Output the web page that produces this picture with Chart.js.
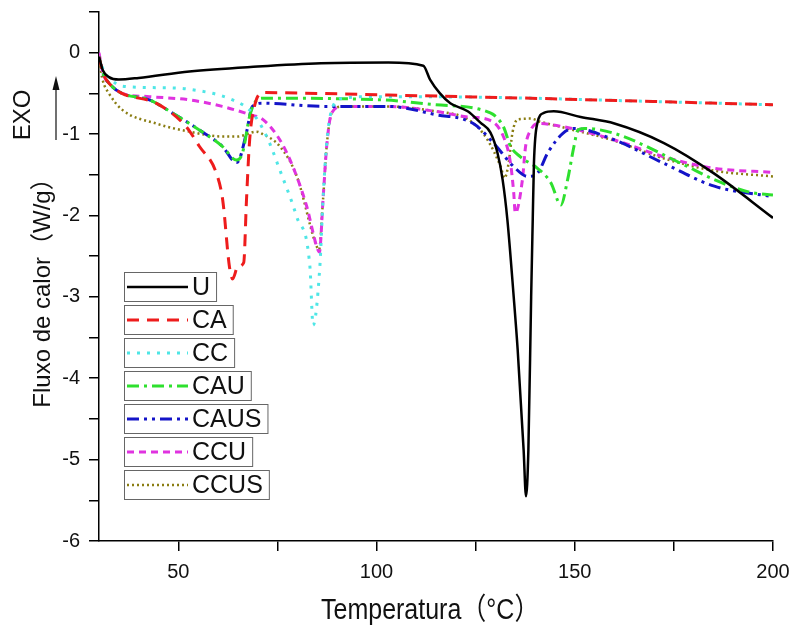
<!DOCTYPE html>
<html>
<head>
<meta charset="utf-8">
<script src="https://cdn.jsdelivr.net/npm/chart.js@4"></script>
<style>
  body { margin: 0; background: #fff; }
  #wrap { width: 792px; height: 626px; }
</style>
</head>
<body>
<div id="wrap"><canvas id="dscChart" width="792" height="626"></canvas></div>
<script>
// temperature (°C) / heat flow (W/g)
const uT = [30, 31, 32.5, 35, 40, 52.8, 70, 86, 103, 111.8, 113.5, 116, 118.6, 123, 126.2, 128.7, 130.5, 131.8, 133, 134.6, 135.6, 137.1, 137.7, 138.3, 139, 139.4, 139.7, 140.6, 142.2, 144.7, 151.5, 160, 172.5, 185, 200];
const uY = [-0.05, -0.22, -0.3, -0.33, -0.31, -0.23, -0.17, -0.13, -0.12, -0.16, -0.33, -0.5, -0.62, -0.72, -0.86, -0.98, -1.23, -1.56, -2.05, -3.0, -3.65, -4.88, -5.45, -4.88, -3.0, -2.05, -1.36, -0.86, -0.74, -0.72, -0.79, -0.87, -1.11, -1.48, -2.03];

const caT = [30, 31, 33, 35.8, 44.4, 52, 55.3, 59.6, 61.2, 62.9, 63.7, 65, 66.5, 67.2, 68, 69.2, 71.3, 85, 103, 139, 170, 200];
const caY = [-0.05, -0.25, -0.4, -0.5, -0.62, -0.91, -1.15, -1.48, -1.81, -2.63, -2.78, -2.63, -2.58, -1.81, -1.07, -0.66, -0.49, -0.5, -0.52, -0.56, -0.6, -0.64];

const ccT = [30, 31, 33, 35.8, 45, 52.8, 63.7, 68.7, 72.3, 75.6, 79.9, 83.2, 84, 85.7, 86.5, 87.5, 89, 91.5, 100, 130, 170, 200];
const ccY = [-0.05, -0.2, -0.33, -0.41, -0.43, -0.45, -0.58, -0.74, -1.03, -1.44, -2.02, -2.63, -3.35, -2.63, -1.81, -1.07, -0.66, -0.56, -0.54, -0.55, -0.6, -0.64];

const cauT = [30, 31, 33, 35.8, 42.7, 48.5, 55.3, 61.1, 64.7, 66.2, 68, 69.2, 71.3, 101.6, 114.8, 128.7, 132, 133.8, 136.3, 140.6, 144, 146.5, 148.2, 149.8, 150.8, 152.3, 159.9, 176.8, 185.2, 193.8, 200];
const cauY = [-0.05, -0.25, -0.4, -0.5, -0.58, -0.74, -0.95, -1.15, -1.32, -1.23, -0.78, -0.62, -0.56, -0.58, -0.64, -0.74, -0.91, -1.15, -1.28, -1.42, -1.6, -1.87, -1.56, -1.15, -0.95, -0.93, -0.99, -1.36, -1.56, -1.71, -1.75];

const causT = [30, 31, 33, 35.8, 42.7, 48.5, 55.3, 61.1, 64.7, 65.5, 67.2, 68.7, 71.3, 86.5, 103, 114.8, 124.4, 129.5, 134.6, 138.1, 140.6, 143.2, 147, 149.8, 159.9, 172.5, 185.2, 200];
const causY = [-0.05, -0.25, -0.4, -0.5, -0.58, -0.74, -0.95, -1.15, -1.35, -1.3, -0.98, -0.66, -0.62, -0.66, -0.66, -0.76, -0.87, -1.11, -1.4, -1.52, -1.48, -1.23, -0.99, -0.93, -1.07, -1.36, -1.64, -1.77];

const ccuT = [30, 31, 33, 35.8, 42.7, 52.8, 61.1, 68, 71.3, 75.6, 78.9, 82.4, 84.9, 85.6, 86.5, 87.5, 88.7, 91.5, 103, 114.8, 123.2, 128, 132, 133.8, 134.6, 135, 136.8, 137.6, 138.9, 140.6, 147.2, 159.9, 172.5, 185.2, 200];
const ccuY = [0, -0.25, -0.4, -0.5, -0.54, -0.58, -0.66, -0.76, -0.82, -1.07, -1.4, -1.89, -2.38, -2.45, -1.81, -1.11, -0.74, -0.66, -0.66, -0.72, -0.79, -0.82, -1.03, -1.36, -1.72, -1.97, -1.56, -1.15, -0.95, -0.87, -0.91, -1.07, -1.28, -1.42, -1.47];

const ccusT = [30, 31, 32.5, 35.8, 44.4, 52.8, 61.1, 65, 69.7, 71.3, 75.6, 79.9, 84.9, 85.5, 86.5, 87.5, 88.7, 91.5, 103, 114.8, 121.9, 125.4, 128, 131.3, 132.3, 133.3, 134.3, 135.6, 138.9, 141.4, 147.2, 159.9, 172.5, 185.2, 200];
const ccusY = [-0.1, -0.35, -0.5, -0.7, -0.87, -0.97, -1.03, -1.03, -0.97, -1.0, -1.15, -1.52, -2.38, -2.42, -1.81, -1.11, -0.74, -0.66, -0.66, -0.72, -0.79, -0.91, -1.07, -1.4, -1.54, -1.36, -0.98, -0.82, -0.81, -0.85, -0.92, -1.08, -1.3, -1.45, -1.52];

const xTicks = [50, 75, 100, 125, 150, 175, 200];
const yTicks = [-6, -5.5, -5, -4.5, -4, -3.5, -3, -2.5, -2, -1.5, -1, -0.5, 0, 0.5];

const FONT = '"Liberation Sans", Arial, "Noto Sans CJK SC", sans-serif';

function pts(xs, ys) {
    return xs.map((x, i) => ({ x: x, y: ys[i] }));
}

function series(label, xs, ys, color, dash, width) {
    return {
        label: label,
        data: pts(xs, ys),
        borderColor: color,
        borderDash: dash,
        borderWidth: width,
        pointRadius: 0,
        fill: false,
        cubicInterpolationMode: "monotone",
    };
}

// legend boxes, axis titles and the EXO arrow
const decor = {
    id: "decor",
    afterDraw(chart) {
        const ctx = chart.ctx;
        ctx.save();
        ctx.fillStyle = "#111";

        // x title
        ctx.font = "25px " + FONT;
        ctx.textAlign = "left";
        ctx.textBaseline = "alphabetic";
        ctx.save();
        ctx.translate(321, 619);
        ctx.scale(1, 1.2);
        ctx.fillText("Temperatura（°C）", 0, 0);
        ctx.restore();

        // y title
        ctx.font = "24px " + FONT;
        ctx.textAlign = "center";
        ctx.textBaseline = "middle";
        ctx.save();
        ctx.translate(43, 287);
        ctx.rotate(-Math.PI / 2);
        ctx.fillText("Fluxo de calor（W/g）", 0, 0);
        ctx.restore();

        ctx.save();
        ctx.translate(23, 115);
        ctx.rotate(-Math.PI / 2);
        ctx.fillText("EXO", 0, 0);
        ctx.restore();

        // arrow
        ctx.strokeStyle = "#111";
        ctx.lineWidth = 1.2;
        ctx.beginPath();
        ctx.moveTo(56, 140);
        ctx.lineTo(56, 86);
        ctx.stroke();
        ctx.beginPath();
        ctx.moveTo(56, 76);
        ctx.lineTo(52.5, 90);
        ctx.lineTo(59.5, 90);
        ctx.closePath();
        ctx.fill();

        // legend
        ctx.font = "25px " + FONT;
        ctx.textAlign = "left";
        chart.data.datasets.forEach((ds, i) => {
            const top = 272 + i * 33;
            const mid = top + 15;
            const tw = ctx.measureText(ds.label).width;
            ctx.setLineDash([]);
            ctx.lineWidth = 1;
            ctx.strokeStyle = "#666";
            ctx.fillStyle = "#fff";
            ctx.fillRect(124, top, 68 + tw + 6, 29);
            ctx.strokeRect(124.5, top + 0.5, 68 + tw + 6, 29);

            ctx.strokeStyle = ds.borderColor;
            ctx.lineWidth = ds.borderWidth;
            ctx.setLineDash(ds.borderDash);
            ctx.beginPath();
            ctx.moveTo(127, mid);
            ctx.lineTo(188, mid);
            ctx.stroke();

            ctx.setLineDash([]);
            ctx.fillStyle = "#111";
            ctx.textBaseline = "middle";
            ctx.fillText(ds.label, 192, mid + 1);
        });
        ctx.restore();
    },
};

const ctx = document.getElementById("dscChart").getContext("2d");
new Chart(ctx, {
    type: "line",
    data: {
        datasets: [
            series("U", uT, uY, "#000000", [], 2.5),
            series("CA", caT, caY, "#ee1c1c", [12, 8], 3),
            series("CC", ccT, ccY, "#4fe6e6", [3, 7], 3),
            series("CAU", cauT, cauY, "#2ee02e", [12, 5, 3, 5], 3),
            series("CAUS", causT, causY, "#1414c8", [12, 5, 3, 5, 3, 5], 3),
            series("CCU", ccuT, ccuY, "#e033e0", [7, 5], 3),
            series("CCUS", ccusT, ccusY, "#8a7d12", [2, 3], 2.5),
        ],
    },
    options: {
        responsive: false,
        animation: false,
        layout: { padding: { left: 0, right: 19, top: 12, bottom: 0 } },
        plugins: {
            legend: { display: false },
            tooltip: { enabled: false },
        },
        scales: {
            x: {
                type: "linear",
                min: 30,
                max: 200,
                afterBuildTicks: scale => { scale.ticks = xTicks.map(v => ({ value: v })); },
                afterFit: scale => {
                    scale.height = 85;
                    scale.paddingLeft = 0;
                    scale.paddingRight = 0;
                },
                grid: { drawOnChartArea: false, drawTicks: true, tickLength: 10, color: "#000", lineWidth: 1.5 },
                border: { display: true, color: "#000", width: 1.5 },
                ticks: {
                    padding: 9,
                    color: "#111",
                    font: { family: FONT, size: 20 },
                    maxRotation: 0,
                    autoSkip: false,
                    callback: v => (v % 50 === 0 ? v : ""),
                },
            },
            y: {
                type: "linear",
                min: -6,
                max: 0.5,
                afterBuildTicks: scale => { scale.ticks = yTicks.map(v => ({ value: v })); },
                afterFit: scale => {
                    scale.width = 99;
                    scale.paddingTop = 0;
                    scale.paddingBottom = 0;
                },
                grid: { drawOnChartArea: false, drawTicks: true, tickLength: 10, color: "#000", lineWidth: 1.5 },
                border: { display: true, color: "#000", width: 1.5 },
                ticks: {
                    padding: 9,
                    color: "#111",
                    font: { family: FONT, size: 20 },
                    autoSkip: false,
                    callback: v => (Number.isInteger(v) && v <= 0 ? v : ""),
                },
            },
        },
    },
    plugins: [decor],
});
</script>
</body>
</html>
